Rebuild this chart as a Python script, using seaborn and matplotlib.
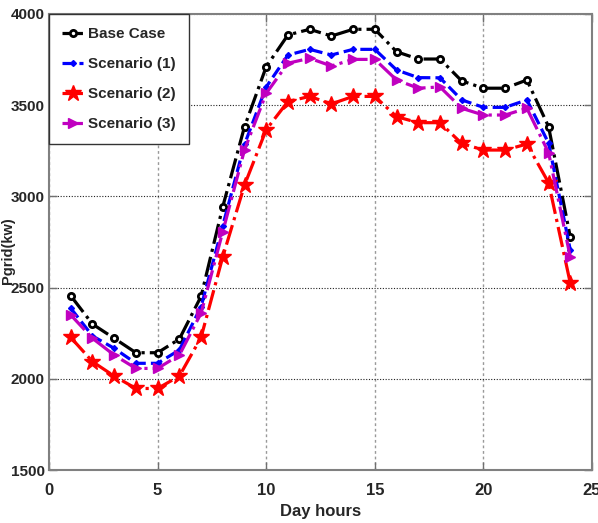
import matplotlib
matplotlib.use("Agg")
import matplotlib.pyplot as plt
import seaborn as sns
import pandas as pd

hours = list(range(1, 25))
base_case = [2455, 2300, 2222, 2143, 2143, 2218, 2452, 2944, 3382, 3711, 3885, 3916,
             3879, 3916, 3916, 3793, 3753, 3753, 3633, 3593, 3593, 3638, 3382, 2777]
scenario1 = [2387, 2235, 2167, 2085, 2085, 2158, 2395, 2840, 3285, 3600, 3775, 3806,
             3775, 3806, 3806, 3693, 3651, 3650, 3529, 3488, 3488, 3529, 3292, 2706]
scenario2 = [2227, 2094, 2015, 1947, 1947, 2015, 2227, 2669, 3062, 3366, 3520, 3548,
             3507, 3548, 3548, 3437, 3404, 3404, 3290, 3254, 3254, 3287, 3075, 2524]
scenario3 = [2350, 2222, 2130, 2057, 2057, 2130, 2360, 2807, 3255, 3565, 3730, 3757,
             3715, 3751, 3751, 3638, 3593, 3600, 3483, 3446, 3446, 3483, 3240, 2667]
labels = ["Base Case", "Scenario (1)", "Scenario (2)", "Scenario (3)"]
xticks = [0, 5, 10, 15, 20, 25]
yticks = [1500, 2000, 2500, 3000, 3500, 4000]

sns.set_style("white")
fam = ['Liberation Sans', 'DejaVu Sans']
plt.rcParams['font.family'] = fam

fig = plt.figure(figsize=(5.98, 5.23), dpi=100)
ax = fig.add_axes([0.082, 0.1013, 0.908, 0.872])

styles = [
    dict(color="black", marker="o", linestyle="-.", markersize=4.5, mfc="white", mec="black", mew=2),
    dict(color="#0000ff", marker="D", linestyle="--", markersize=3, mfc="#0000ff", mec="#0000ff", mew=1),
    dict(color="#ff0000", marker="*", linestyle="-.", markersize=12, mfc="#ff0000", mec="#ff0000", mew=1),
    dict(color="#c000c0", marker=">", linestyle="-.", markersize=7, mfc="#c000c0", mec="#c000c0", mew=1),
]
series = [base_case, scenario1, scenario2, scenario3]
for lab, vals, st in zip(labels, series, styles):
    df = pd.DataFrame({"hour": hours, "P": vals})
    sns.lineplot(data=df, x="hour", y="P", ax=ax, label=lab, linewidth=2.3, **st)

ax.set_xlim(0, 25)
ax.set_ylim(1500, 4000)
ax.set_xticks(xticks)
ax.set_yticks(yticks)
ax.set_xticklabels([str(t) for t in xticks], fontsize=12, fontweight="bold", family=fam)
ax.set_yticklabels([str(t) for t in yticks], fontsize=11, fontweight="bold", family=fam)
ax.tick_params(direction="in", length=6, width=1, color="#707070", top=True, right=True,
               bottom=True, left=True)
ax.tick_params(axis="x", pad=9)
ax.tick_params(axis="y", pad=3)
ax.yaxis.grid(True, linestyle=(0, (1, 1.5)), color="#222222", linewidth=0.8)
ax.xaxis.grid(True, linestyle=(0, (2, 2)), color="#999999", linewidth=1.0)
for sp in ax.spines.values():
    sp.set_color("#808080")
    sp.set_linewidth(1.5)

ax.set_xlabel("Day hours", fontsize=12, fontweight="bold", family=fam, labelpad=5)
ax.set_ylabel("Pgrid(kw)", fontsize=10.5, fontweight="bold", family=fam)
ax.yaxis.set_label_coords(-0.063, 0.48)

leg = ax.legend(loc="upper left", borderaxespad=0, frameon=True, fancybox=False,
                handlelength=1.4, handletextpad=0.3, labelspacing=1.05, borderpad=0.85,
                prop=dict(size=11, weight="bold", family=fam))
leg.get_frame().set_edgecolor("#333333")
leg.get_frame().set_linewidth(1.0)
leg.get_frame().set_alpha(1)

fig.savefig("out.png", dpi=100)
